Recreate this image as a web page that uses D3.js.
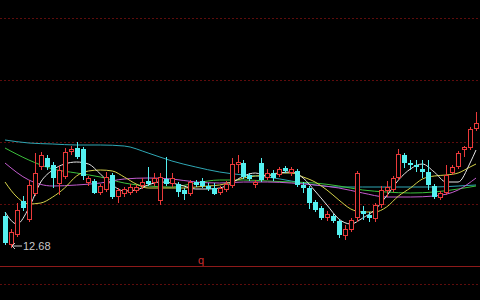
<!DOCTYPE html>
<html><head><meta charset="utf-8">
<script src="https://cdn.jsdelivr.net/npm/d3@7"></script>
<style>html,body{margin:0;padding:0;background:#000;overflow:hidden}</style>
</head><body>
<script>
// ---- data ----
const opens  = [13.00,12.71,12.81,13.15,12.96,13.22,13.49,13.58,13.51,13.32,13.39,13.64,13.68,13.67,13.33,13.35,13.23,13.26,13.41,13.19,
                13.22,13.23,13.25,13.30,13.35,13.33,13.15,13.37,13.32,13.32,13.26,13.22,13.34,13.35,13.30,13.28,13.23,13.26,13.30,13.51,
                13.53,13.41,13.31,13.53,13.38,13.43,13.41,13.48,13.43,13.45,13.31,13.28,13.14,13.08,12.98,13.00,12.95,12.80,12.86,12.98,
                13.05,13.01,12.97,13.11,13.25,13.26,13.38,13.61,13.53,13.51,13.47,13.44,13.30,13.18,13.23,13.43,13.49,13.66,13.68,13.87];
const closes = [12.73,12.84,13.06,13.08,13.31,13.43,13.61,13.49,13.38,13.46,13.64,13.67,13.59,13.40,13.38,13.23,13.30,13.39,13.19,13.26,
                13.27,13.29,13.29,13.34,13.32,13.38,13.39,13.32,13.38,13.24,13.22,13.34,13.31,13.30,13.27,13.22,13.28,13.32,13.52,13.54,
                13.39,13.37,13.34,13.36,13.43,13.38,13.47,13.45,13.47,13.31,13.28,13.13,13.06,12.98,13.02,12.95,12.81,12.87,12.96,13.43,
                13.02,12.98,13.11,13.26,13.29,13.38,13.62,13.53,13.51,13.49,13.44,13.31,13.19,13.23,13.41,13.49,13.63,13.69,13.87,13.93];
const highs  = [13.04,12.87,13.13,13.20,13.36,13.63,13.64,13.61,13.54,13.50,13.68,13.70,13.74,13.69,13.40,13.37,13.32,13.44,13.43,13.28,
                13.29,13.32,13.31,13.38,13.49,13.43,13.43,13.59,13.43,13.34,13.28,13.36,13.36,13.38,13.33,13.33,13.30,13.35,13.58,13.61,
                13.56,13.43,13.36,13.58,13.47,13.46,13.49,13.50,13.49,13.47,13.34,13.30,13.16,13.10,13.05,13.02,12.97,12.91,12.98,13.45,
                13.10,13.04,13.13,13.30,13.35,13.40,13.67,13.63,13.56,13.56,13.56,13.56,13.32,13.25,13.51,13.51,13.65,13.70,13.89,14.04];
const lows   = [12.71,12.68,12.79,13.05,12.94,13.20,13.46,13.46,13.28,13.21,13.37,13.61,13.57,13.36,13.30,13.22,13.21,13.24,13.17,13.13,
                13.19,13.21,13.23,13.27,13.30,13.30,13.11,13.30,13.29,13.19,13.16,13.20,13.29,13.28,13.25,13.21,13.21,13.24,13.28,13.43,
                13.37,13.35,13.28,13.34,13.36,13.35,13.39,13.43,13.40,13.29,13.23,13.07,13.04,12.96,12.95,12.93,12.78,12.76,12.84,12.94,
                12.96,12.94,12.94,13.08,13.19,13.24,13.36,13.48,13.46,13.44,13.38,13.26,13.17,13.16,13.21,13.41,13.47,13.59,13.66,13.85];

// moving averages: [candle index list, values]
const ma5Idx  = [0,2,4,6,8,10,12,14,16,18,20,22,24,26,28,30,32,34,36,38,40,42,44,46,48,50,52,54,56,58,60,62,64,66,68,70,72,74,76,78,79];
const ma5     = [13.04,12.92,13.08,13.34,13.46,13.52,13.54,13.52,13.42,13.31,13.25,13.26,13.31,13.34,13.33,13.30,13.27,13.27,13.28,13.33,
                 13.40,13.43,13.40,13.43,13.44,13.38,13.25,13.11,12.97,12.92,12.98,13.06,13.20,13.36,13.47,13.52,13.44,13.34,13.34,13.53,13.66];
const ma10Idx = ma5Idx;
const ma10    = [13.34,13.19,13.12,13.13,13.19,13.28,13.40,13.45,13.46,13.45,13.39,13.32,13.28,13.28,13.28,13.28,13.29,13.30,13.31,13.34,
                 13.38,13.40,13.41,13.43,13.43,13.39,13.34,13.26,13.16,13.07,13.04,13.04,13.09,13.20,13.28,13.37,13.40,13.41,13.43,13.49,13.52];
const maLongIdx = [0,4,8,12,16,20,24,28,32,36,40,44,48,52,56,60,64,68,72,76,79];
const ma20    = [13.53,13.36,13.30,13.31,13.33,13.37,13.38,13.37,13.34,13.33,13.34,13.34,13.33,13.31,13.28,13.23,13.19,13.19,13.20,13.26,13.38];
const ma30    = [13.68,13.56,13.47,13.43,13.39,13.33,13.30,13.29,13.33,13.36,13.36,13.35,13.34,13.33,13.30,13.26,13.24,13.23,13.24,13.27,13.30];
const ma60    = [13.76,13.73,13.72,13.71,13.71,13.70,13.63,13.55,13.49,13.44,13.41,13.39,13.35,13.31,13.29,13.29,13.29,13.29,13.29,13.30,13.31];

const lowLabel = "12.68";
const markText = "q";

// ---- drawing ----
const W = 480, H = 300;
const svg = d3.select("body").append("svg").attr("width", W).attr("height", H)
  .style("display","block").style("background","#000");

const idx = d3.range(opens.length);
const x = d3.scalePoint().domain(idx).range([5, 476]);
const y = d3.scaleLinear().domain([12.50, 15.16]).range([266, 0]);

// grid
const grid = svg.append("g").attr("shape-rendering","crispEdges");
[18, 80, 142, 204].forEach(gy => {
  grid.append("line").attr("x1",0).attr("x2",W).attr("y1",gy+0.5).attr("y2",gy+0.5)
    .attr("stroke","#5e0c0c").attr("stroke-dasharray","2,2");
});
grid.append("line").attr("x1",0).attr("x2",W).attr("y1",266.5).attr("y2",266.5)
  .attr("stroke","#8e1a1a");
grid.append("line").attr("x1",0).attr("x2",W).attr("y1",284.5).attr("y2",284.5)
  .attr("stroke","#5e0c0c").attr("stroke-dasharray","2,2");

// MA lines
const RED = "#ea3a3a", CYAN = "#54f0f0";
function drawMA(ids, vals, color) {
  const pts = ids.map((k, j) => [x(k), y(vals[j])]);
  svg.append("path").attr("d", d3.line().curve(d3.curveMonotoneX)(pts))
    .attr("fill","none").attr("stroke",color).attr("stroke-width",1);
}
drawMA(maLongIdx, ma60, "#2fa7b4");
drawMA(maLongIdx, ma30, "#3cc03c");
drawMA(maLongIdx, ma20, "#c45ccf");
drawMA(ma10Idx, ma10, "#d6d34a");
drawMA(ma5Idx, ma5, "#e6e6e6");

// candles
const cg = svg.append("g").attr("shape-rendering","crispEdges");
idx.forEach(i => {
  const cx = Math.round(x(i));
  const up = closes[i] >= opens[i];
  const top = Math.round(y(Math.max(opens[i], closes[i])));
  const bot = Math.round(y(Math.min(opens[i], closes[i])));
  const hi = Math.round(y(highs[i])), lo = Math.round(y(lows[i]));
  const col = up ? RED : CYAN;
  cg.append("line").attr("x1",cx+0.5).attr("x2",cx+0.5).attr("y1",hi).attr("y2",top).attr("stroke",col);
  cg.append("line").attr("x1",cx+0.5).attr("x2",cx+0.5).attr("y1",bot).attr("y2",lo).attr("stroke",col);
  if (up) {
    cg.append("rect").attr("x",cx-1.5).attr("y",top+0.5).attr("width",4).attr("height",Math.max(1,bot-top-1))
      .attr("fill","#000").attr("stroke",col);
  } else {
    cg.append("rect").attr("x",cx-2).attr("y",top).attr("width",5).attr("height",Math.max(1,bot-top))
      .attr("fill",col);
  }
});

// low annotation
const li = lows.indexOf(d3.min(lows));
const lx = Math.round(x(li)), ly = Math.round(y(lows[li]));
svg.append("path").attr("d", d3.line()([[lx+1, ly-2],[lx+11, ly-2]])).attr("stroke","#c8c8c8").attr("fill","none");
svg.append("path").attr("d", d3.line()([[lx+4, ly-5],[lx+1, ly-2],[lx+4, ly+1]])).attr("stroke","#c8c8c8").attr("fill","none");
svg.append("text").attr("x", lx+12).attr("y", ly+2).text(lowLabel)
  .attr("fill","#c8c8c8").attr("font-family","Arial, 'Liberation Sans', sans-serif").attr("font-size",11);

// marker text
svg.append("text").attr("x",201).attr("y",264).attr("text-anchor","middle").text(markText)
  .attr("fill","#d03030").attr("font-family","Arial, 'Liberation Sans', sans-serif").attr("font-size",11);
</script>
</body></html>
